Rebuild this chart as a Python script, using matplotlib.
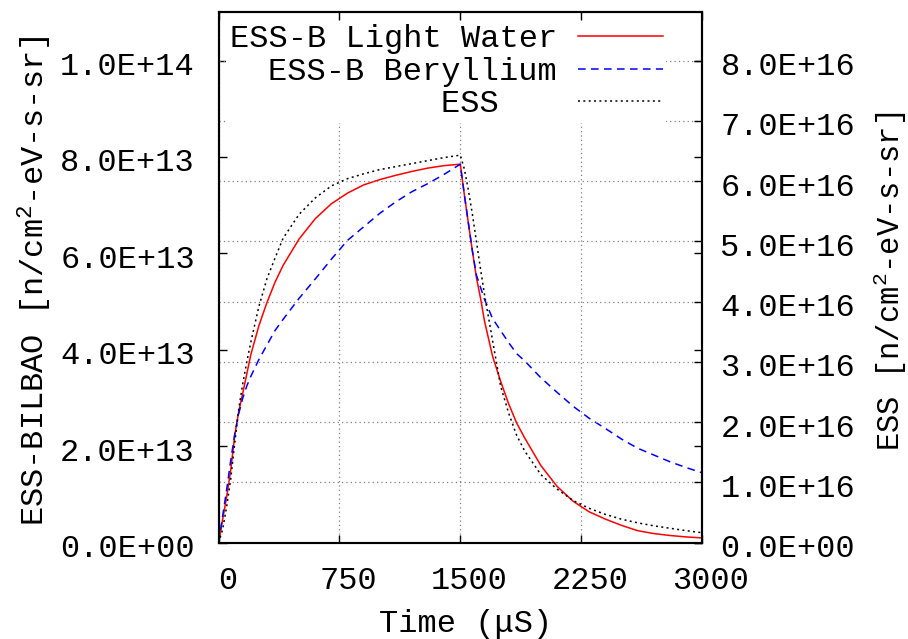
import matplotlib
matplotlib.use("Agg")
import matplotlib.pyplot as plt
from matplotlib.ticker import FuncFormatter
from matplotlib.transforms import ScaledTranslation

plt.rcParams["font.family"] = ["Liberation Mono", "DejaVu Sans"]
plt.rcParams["mathtext.fontset"] = "custom"
plt.rcParams["mathtext.rm"] = "Liberation Mono"
plt.rcParams["mathtext.it"] = "Liberation Mono"

# time in microseconds
time_us = [0, 25, 50, 75, 100, 125, 150, 175, 200, 250, 300, 350, 400, 500,
           600, 700, 800, 900, 1000, 1100, 1200, 1300, 1400, 1500,
           1525, 1550, 1575, 1600, 1625, 1650, 1700, 1750, 1800, 1850, 1900,
           2000, 2100, 2200, 2300, 2400, 2500, 2600, 2700, 2800, 2900, 3000]

# ESS-Bilbao curves, units of 1e13 n/cm2-eV-s-sr (left axis)
light_water = [0, 0.48, 0.95, 1.5, 2.22, 2.72, 3.1, 3.5, 3.9, 4.5, 4.98, 5.4,
               5.75, 6.3, 6.72, 7.03, 7.25, 7.42, 7.53, 7.62, 7.7, 7.77, 7.82,
               7.85,
               7.22, 6.63, 6.05, 5.5, 5.08, 4.6, 3.87, 3.35, 2.88, 2.48, 2.17,
               1.6, 1.17, 0.86, 0.64, 0.49, 0.36, 0.25, 0.19, 0.15, 0.12, 0.1]
beryllium = [0, 0.55, 1.1, 1.7, 2.25, 2.68, 3.0, 3.25, 3.45, 3.8, 4.1, 4.4,
             4.63, 5.07, 5.47, 5.88, 6.27, 6.55, 6.83, 7.07, 7.28, 7.45, 7.64,
             7.85,
             7.22, 6.63, 6.05, 5.55, 5.3, 5.05, 4.65, 4.4, 4.15, 3.92, 3.77,
             3.42, 3.12, 2.83, 2.58, 2.37, 2.15, 1.96, 1.82, 1.68, 1.56, 1.45]

# ESS curve, units of 1e16 (right axis)
ess = [0, 0.22, 0.6, 1.05, 1.65, 2.22, 2.64, 3.0, 3.33, 3.92, 4.38, 4.72,
       5.05, 5.45, 5.72, 5.92, 6.04, 6.12, 6.19, 6.24, 6.29, 6.34, 6.39, 6.43,
       6.2, 5.85, 5.45, 5.0, 4.55, 4.12, 3.36, 2.6, 2.15, 1.78, 1.52, 1.13,
       0.89, 0.7, 0.57, 0.47, 0.39, 0.33, 0.28, 0.24, 0.2, 0.166]

x_ticks = [0, 750, 1500, 2250, 3000]
left_ticks = [0, 2e13, 4e13, 6e13, 8e13, 1e14]
right_ticks = [0, 1e16, 2e16, 3e16, 4e16, 5e16, 6e16, 7e16, 8e16]

W, H = 908, 639
FS = 23

fig = plt.figure(figsize=(W / 100, H / 100), dpi=100)
ax = fig.add_axes([218.6 / W, (H - 542.7) / H, (702 - 218.6) / W, (542.7 - 12.3) / H])
ax2 = ax.twinx()

ax.plot(time_us, [v * 1e13 for v in light_water], color="#ff0000", lw=1.1,
        label="ESS-B Light Water")
ax.plot(time_us, [v * 1e13 for v in beryllium], color="#0000ff", lw=1.1,
        linestyle=(0, (5, 3.5)), label="ESS-B Beryllium")
ax2.plot(time_us, [v * 1e16 for v in ess], color="black", lw=1.1,
         linestyle=(0, (1.3, 2.2)), label="ESS   ")

ax.set_xlim(0, 3000)
ax.set_ylim(0, 1.1e14)
ax2.set_ylim(0, 8.8e16)
ax.set_xticks(x_ticks)
ax.set_yticks(left_ticks)
ax2.set_yticks(right_ticks)

sci = FuncFormatter(lambda v, p: f"{v:.1E}")
ax.yaxis.set_major_formatter(sci)
ax2.yaxis.set_major_formatter(sci)

ax.tick_params(axis="both", direction="in", length=5.8, width=1.0,
               labelsize=FS, colors="black")
ax.tick_params(axis="x", top=True, labeltop=False, pad=17)
ax.tick_params(axis="y", left=True, right=True, labelright=False, pad=17)
ax2.tick_params(axis="y", direction="in", length=5.8, width=1.0,
                right=True, left=False, labelsize=FS, pad=13.3)

for sp in ax.spines.values():
    sp.set_linewidth(1.5)
for sp in ax2.spines.values():
    sp.set_linewidth(1.5)

grid_style = dict(color="#808080", linestyle=(0, (1, 2.5)), linewidth=0.9)
ax.grid(axis="x", **grid_style)
ax2.grid(axis="y", **grid_style)

# gnuplot puts the tick labels a little off their ticks
dx = ScaledTranslation(9 / 100, 0, fig.dpi_scale_trans)
for lab in ax.get_xticklabels():
    lab.set_transform(lab.get_transform() + dx)
dy = ScaledTranslation(0, -3 / 100, fig.dpi_scale_trans)
for lab in ax.get_yticklabels() + ax2.get_yticklabels():
    lab.set_transform(lab.get_transform() + dy)

handles = ax.get_lines() + ax2.get_lines()
leg = ax2.legend(handles=handles, labels=[h.get_label() for h in handles],
                 loc="upper right", bbox_to_anchor=(666 / W, 1 - 21 / H),
                 bbox_transform=fig.transFigure, borderaxespad=0,
                 markerfirst=False, fontsize=FS, handlelength=2.66,
                 handletextpad=0.66, labelspacing=0.08, borderpad=0.1,
                 frameon=True, fancybox=False, facecolor="white",
                 edgecolor="none", framealpha=1.0)

fig.text(35 / W, 1 - 280.7 / H, "ESS-BILBAO [n/cm$^2$-eV-s-sr]", rotation=90,
         ha="center", va="center", fontsize=FS)
fig.text(890 / W, 1 - 281 / H, "ESS [n/cm$^2$-eV-s-sr]", rotation=90,
         ha="center", va="center", fontsize=22)
fig.text(466 / W, 1 - 624 / H, "Time (\u03bcS)", ha="center", va="center",
         fontsize=FS)

fig.savefig("out.png", dpi=100, facecolor="white")
